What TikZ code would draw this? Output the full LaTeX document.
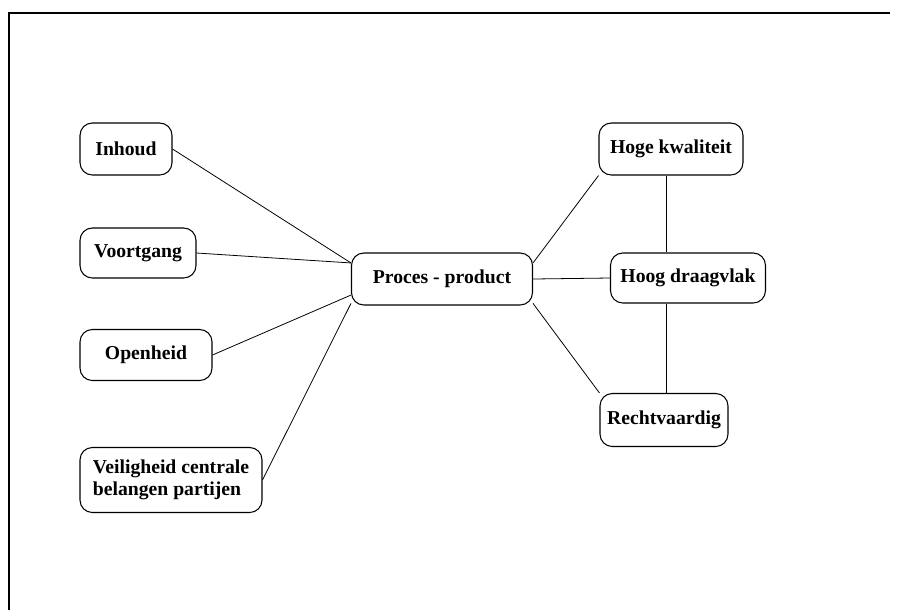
\documentclass[tikz,border=0pt]{standalone}
\usepackage{fontspec}
\setmainfont{Liberation Serif}
\usepackage{tikz}
\usetikzlibrary{positioning}

\begin{document}
\begin{tikzpicture}[x=0.02cm,y=-0.02cm,
  box/.style={draw,rounded corners=7pt,line width=0.6pt,font=\fontsize{11.2}{12.5}\selectfont\bfseries,align=left,inner sep=2pt},
  link/.style={line width=0.45pt}]
\useasboundingbox (0,0) rectangle (900,610);
\draw[line width=0.8pt](9,610)--(9,13)--(890,13);
% left side
\node[box,minimum width=1.84cm,minimum height=1.04cm](ih)at(126,149){Inhoud};
\node[box,minimum width=2.32cm,minimum height=1.0cm](vg)at(138,253){Voortgang};
\node[box,minimum width=2.64cm,minimum height=1.02cm](oh)at(146,355){Openheid};
\node[box,minimum width=3.64cm,minimum height=1.3cm](vh)at(171,480){Veiligheid centrale\\belangen partijen};
% middle
\node[box,minimum width=3.62cm,minimum height=1.04cm](pp)at(442,279){Proces - product};
% right side
\node[box,minimum width=2.88cm,minimum height=1.04cm](hk)at(671,149){Hoge kwaliteit};
\node[box,minimum width=3.1cm,minimum height=1.0cm](hd)at(688,278){Hoog draagvlak};
\node[box,minimum width=2.56cm,minimum height=1.06cm](rv)at(664,420){Rechtvaardig};
\draw[link](ih.east)--(pp.170);
\draw[link](vg.east)--(pp.170);
\draw[link](oh.east)--(pp.190);
\draw[link](vh.east)--(pp.195);
\draw[link](pp.10)--(hk.south west);
\draw[link](pp.east)--(hd.west);
\draw[link](pp.-15)--(rv.north west);
\draw[link]([xshift=-0.1cm]hk.south)--([xshift=-0.1cm]hk.south|-hd.north);
\draw[link]([xshift=-0.1cm]hk.south|-hd.south)--([xshift=-0.1cm]hk.south|-rv.north);
\end{tikzpicture}
\end{document}
